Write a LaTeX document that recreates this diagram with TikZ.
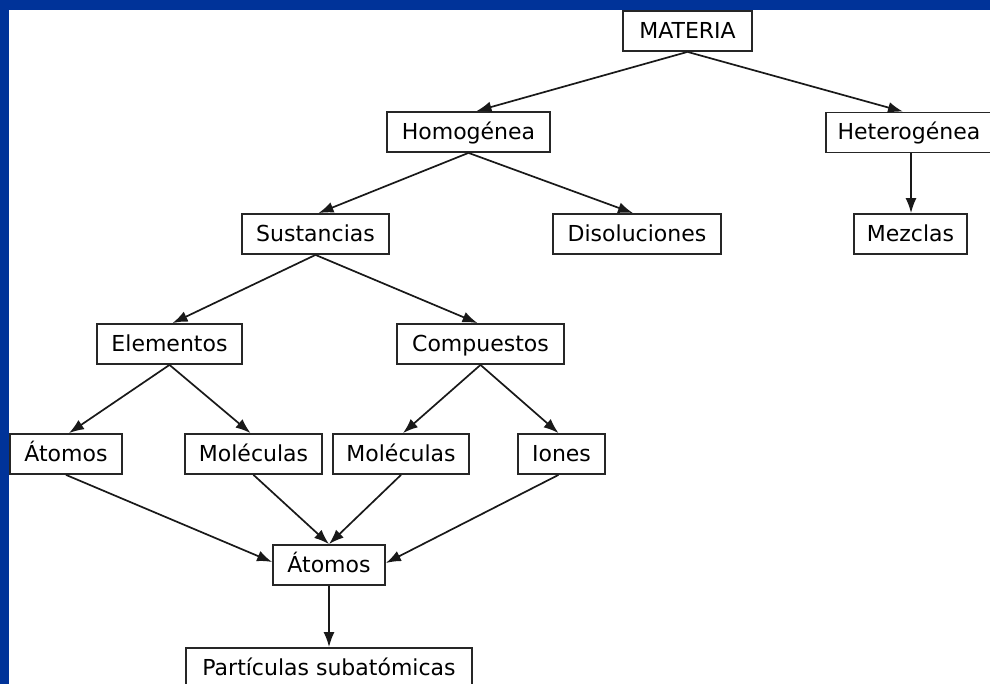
\documentclass[tikz,border=0pt]{standalone}
\usepackage{fontspec}
\setmainfont{DejaVu Sans}
\usetikzlibrary{arrows.meta}
\definecolor{framebg}{RGB}{0,51,153}
\begin{document}
\begin{tikzpicture}[x=1pt,y=-1pt,
  box/.style={draw=black!85, line width=1.8pt, fill=white, inner sep=0pt,
              minimum height=40pt, text height=19.5pt, text depth=5pt,
              font=\fontsize{22}{26}\selectfont},
  link/.style={draw=black!90, line width=1.7pt, -{Latex[length=15pt,width=11pt]}}]
  % page frame
  \clip (0,0) rectangle (990,684);
  \fill[framebg] (0,0) rectangle (990,684);
  \fill[white] (9,10) rectangle (990,684);

  % boxes
  \node[box, minimum width=129pt] (materia) at (687.5,31)  {MATERIA};
  \node[box, minimum width=163pt] (homog)   at (468.5,132) {Homogénea};
  \node[box, minimum width=166pt] (heter)   at (909,132.5) {Heterogénea};
  \node[box, minimum width=113pt] (mezclas) at (910.5,234) {Mezclas};
  \node[box, minimum width=147pt] (sust)    at (315.5,234) {Sustancias};
  \node[box, minimum width=168pt] (disol)   at (637,234)   {Disoluciones};
  \node[box, minimum width=145pt] (elem)    at (169.5,344) {Elementos};
  \node[box, minimum width=167pt] (comp)    at (480.5,344) {Compuestos};
  \node[box, minimum width=112pt] (atomL)   at (66,454)    {Átomos};
  \node[box, minimum width=137pt] (mol1)    at (253.5,454) {Moléculas};
  \node[box, minimum width=136pt] (mol2)    at (401,454)   {Moléculas};
  \node[box, minimum width=87pt]  (iones)   at (561.5,454) {Iones};
  \node[box, minimum width=112pt] (atomC)   at (329,565)   {Átomos};
  \node[box, minimum width=286pt] (part)    at (329,668)   {Partículas subatómicas};

  % connectors
  \draw[link] (materia.south) -- ([xshift=8pt]homog.north);
  \draw[link] (materia.south) -- ([xshift=-6pt]heter.north);
  \draw[link] ([xshift=2pt]heter.south) -- ([xshift=2pt]heter.south |- mezclas.north);
  \draw[link] (homog.south) -- ([xshift=3pt]sust.north);
  \draw[link] (homog.south) -- ([xshift=-4pt]disol.north);
  \draw[link] (sust.south) -- ([xshift=3pt]elem.north);
  \draw[link] (sust.south) -- ([xshift=-3pt]comp.north);
  \draw[link] (elem.south) -- ([xshift=3pt]atomL.north);
  \draw[link] (elem.south) -- ([xshift=-3pt]mol1.north);
  \draw[link] (comp.south) -- ([xshift=2pt]mol2.north);
  \draw[link] (comp.south) -- ([xshift=-3pt]iones.north);
  \draw[link] (atomL.south) -- ([yshift=3pt]atomC.west);
  \draw[link] (mol1.south) -- (atomC.north);
  \draw[link] (mol2.south) -- (atomC.north);
  \draw[link] ([xshift=-3pt]iones.south) -- ([yshift=2pt]atomC.east);
  \draw[link] (atomC.south) -- (part.north);
\end{tikzpicture}
\end{document}
